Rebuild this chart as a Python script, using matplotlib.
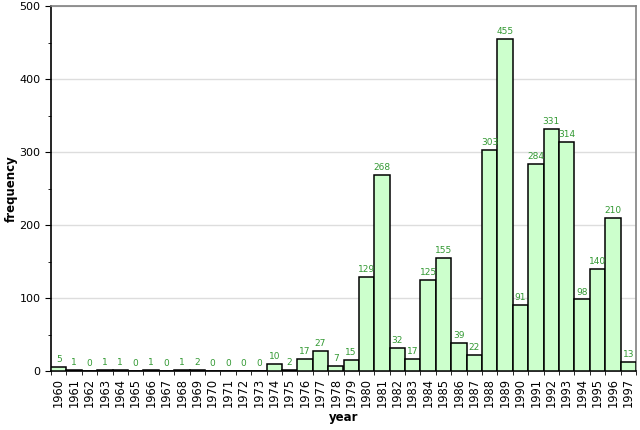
import matplotlib
matplotlib.use("Agg")
import matplotlib.pyplot as plt
import numpy as np

years = list(range(1960, 1998))
counts = [5, 1, 0, 1, 1, 0, 1, 0, 1, 2,
          0, 0, 0, 0, 10, 2, 17, 27, 7, 15,
          129, 268, 32, 17, 125, 155, 39, 22, 303, 455,
          91, 284, 331, 314, 98, 140, 210, 13]

fig = plt.figure(figsize=(6.4, 4.3), dpi=100)
ax = fig.add_axes([51/640, 1 - 371/430, 585/640, 365/430])

x = np.arange(len(years))
ax.bar(x, counts, width=1.0, color='#ccffcc', edgecolor='black', linewidth=1.1, zorder=3)

for xi, c in zip(x, counts):
    ax.text(xi, c + 4, str(c), ha='center', va='bottom', fontsize=6.5, color='#339933', zorder=4)

ax.set_xlim(-0.5, len(years) - 0.5)
ax.set_ylim(0, 500)
ax.set_xticks(x)
ax.set_xticklabels([str(y) for y in years], rotation=90, fontsize=8.3)
ax.set_xticks(np.arange(-0.5, len(years), 1), minor=True)
ax.tick_params(axis='x', which='major', length=0, pad=5)
ax.tick_params(axis='x', which='minor', length=3, direction='out')
ax.set_yticks([0, 100, 200, 300, 400, 500])
ax.set_yticks(np.arange(50, 500, 100), minor=True)
ax.tick_params(axis='y', which='major', length=4, labelsize=8)
ax.tick_params(axis='y', which='minor', length=2)
ax.yaxis.grid(True, color='#dddddd', linewidth=1, zorder=0)

ax.spines['left'].set_color('black')
ax.spines['bottom'].set_color('black')
ax.spines['top'].set_color('#808080')
ax.spines['right'].set_color('#808080')
for s in ax.spines.values():
    s.set_linewidth(1.2)

ax.set_xlabel('year', fontsize=8.5, fontweight='bold', labelpad=3)
ax.set_ylabel('frequency', fontsize=8.5, fontweight='bold', labelpad=1)

fig.savefig('out.png', dpi=100)
